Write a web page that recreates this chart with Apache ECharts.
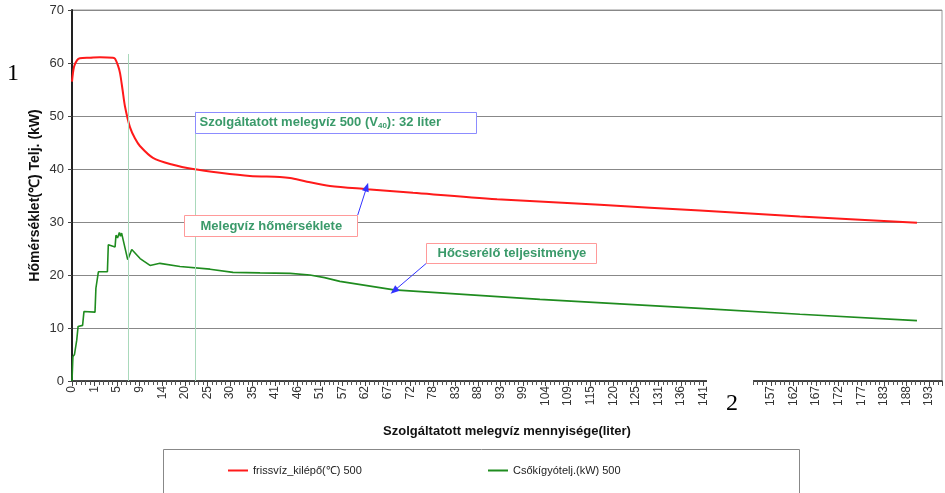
<!DOCTYPE html>
<html>
<head>
<meta charset="utf-8">
<script src="https://cdn.jsdelivr.net/npm/echarts@6/dist/echarts.min.js"></script>
<style>
  html, body { margin: 0; padding: 0; background: #fff; }
  #chart { width: 945px; height: 493px; }
</style>
</head>
<body>
<div id="chart"></div>
<script>
// x axis tick labels (liter), one per tick slot
const tickLabels = ['0', '1', '5', '9', '14', '20', '25', '30', '35', '41', '46', '51', '57', '62', '67',
  '72', '78', '83', '88', '93', '99', '104', '109', '115', '120', '125', '131', '136', '141',
  '146', '151', '157', '162', '167', '172', '177', '183', '188', '193']

// red: frissvíz kilépő hőmérséklet, position in tick slots
const redX = [0, 0.09, 0.22, 0.35, 0.8, 1.24, 1.82, 1.91, 2.04, 2.13, 2.24, 2.35, 2.57, 2.79, 3.02,
  3.59, 4.48, 5.37, 6.56, 7.89, 9.22, 9.67, 10.42, 11.44, 13.08, 15.12, 18.85, 23.41, 27.85, 32.28, 37.47]
const redY = [56.5, 59.3, 60.5, 60.9, 61.0, 61.1, 61.0, 60.8, 59.5, 58.1, 55.0, 51.8, 47.9, 45.8, 44.3,
  42.1, 40.8, 40.0, 39.3, 38.7, 38.5, 38.3, 37.6, 36.8, 36.2, 35.5, 34.3, 33.25, 32.15, 31.05, 29.85]

// green: csőkígyó teljesítmény
const greenX = [0, 0.04, 0.11, 0.21, 0.27, 0.31, 0.47, 0.53, 1.02, 1.06, 1.17, 1.57, 1.61, 1.91, 1.95,
  2.02, 2.1, 2.15, 2.2, 2.47, 2.65, 3.02, 3.46, 3.9, 4.79, 6.12, 7.14, 8.34, 9.67, 10.55, 11.2, 11.88,
  14.28, 20.75, 27.85, 32.28, 37.47]
const greenY = [0, 4.6, 5.0, 7.7, 10.3, 10.6, 10.5, 13.1, 13.0, 17.5, 20.6, 20.6, 25.7, 25.3, 27.5,
  27.0, 28.0, 27.3, 27.9, 22.9, 24.8, 23.1, 21.8, 22.2, 21.6, 21.1, 20.5, 20.4, 20.3, 20.0, 19.5, 18.8,
  17.2, 15.4, 13.7, 12.6, 11.4]

const seriesNames = ['frissvíz_kilépő(℃) 500', 'Csőkígyótelj.(kW) 500']

const pairs = (xs, ys) => xs.map((x, i) => [x, ys[i]])

const chart = echarts.init(document.getElementById('chart'))

const annoText = '#3a9a6a'
const vLine = { color: '#a9d9bb', width: 1, type: 'solid' }
const arrowLine = { color: '#3333ff', width: 1, type: 'solid' }
const legendText = { fontFamily: 'Liberation Sans', fontSize: 11, color: '#222' }

// white box with a text inside, drawn over the plot
const annoBox = (left, top, w, h, stroke, tx, ty, textStyle) => ({
  type: 'group', left, top,
  children: [
    { type: 'rect', z: 50, shape: { x: 0, y: 0, width: w, height: h },
      style: { fill: '#fff', stroke, lineWidth: 1 } },
    { type: 'text', z: 51, x: tx, y: ty, style: textStyle }
  ]
})

const boldAnno = { fontFamily: 'Liberation Sans', fontSize: 13, fontWeight: 'bold', fill: annoText }

const option = {
  animation: false,
  backgroundColor: '#fff',
  grid: {
    left: 72, right: 3, top: 10, bottom: 112,
    show: true, borderColor: '#999', borderWidth: 1
  },
  xAxis: {
    type: 'value',
    min: 0,
    max: 38.58,
    interval: 1,
    name: 'Szolgáltatott melegvíz mennyisége(liter)',
    nameLocation: 'middle',
    nameGap: 44,
    nameMoveOverlap: false,
    nameTextStyle: { fontFamily: 'Liberation Sans', fontSize: 13, fontWeight: 'bold', color: '#111' },
    axisLine: { lineStyle: { color: '#222', width: 1.5 } },
    axisTick: { length: 5, lineStyle: { color: '#444' } },
    minorTick: { show: true, splitNumber: 5, length: 4, lineStyle: { color: '#555' } },
    splitLine: { show: false },
    axisLabel: {
      rotate: 90,
      margin: 5,
      fontFamily: 'Liberation Sans',
      fontSize: 12,
      color: '#333',
      showMaxLabel: false,
      formatter: (v) => (Number.isInteger(v) && tickLabels[v] !== undefined ? tickLabels[v] : '')
    }
  },
  yAxis: {
    type: 'value',
    min: 0,
    max: 70,
    interval: 10,
    name: 'Hőmérséklet(℃) Telj. (kW)',
    nameLocation: 'middle',
    nameGap: 30,
    nameMoveOverlap: false,
    nameTextStyle: { fontFamily: 'Liberation Sans', fontSize: 14, fontWeight: 'bold', color: '#111' },
    axisLine: { show: true, lineStyle: { color: '#222', width: 2 } },
    axisTick: { show: true, length: 4, lineStyle: { color: '#444' } },
    splitLine: { lineStyle: { color: '#888', width: 1 } },
    axisLabel: { fontFamily: 'Liberation Sans', fontSize: 13, color: '#333', margin: 8 }
  },
  legend: [
    {
      data: [seriesNames[0]], left: 228, top: 465,
      icon: 'rect', itemWidth: 20, itemHeight: 2, itemGap: 0, padding: 0,
      textStyle: legendText
    },
    {
      data: [seriesNames[1]], left: 488, top: 465,
      icon: 'rect', itemWidth: 20, itemHeight: 2, itemGap: 0, padding: 0,
      textStyle: legendText
    }
  ],
  series: [
    {
      name: seriesNames[0],
      type: 'line',
      data: pairs(redX, redY),
      smooth: 0.3,
      showSymbol: false,
      color: '#ff1a1a',
      lineStyle: { width: 2 },
      z: 3,
      markLine: {
        silent: true,
        symbol: ['none', 'none'],
        label: { show: false },
        data: [
          [{ coord: [2.51, 0], lineStyle: vLine }, { coord: [2.51, 61.7] }],
          [{ coord: [5.48, 0], lineStyle: vLine }, { coord: [5.48, 50.8] }],
          [{ coord: [12.67, 31.3], lineStyle: arrowLine, symbol: 'none' },
           { coord: [13.07, 36.6], symbol: 'triangle', symbolSize: [7, 9] }]
        ]
      }
    },
    {
      name: seriesNames[1],
      type: 'line',
      data: pairs(greenX, greenY),
      showSymbol: false,
      color: '#1f8c1f',
      lineStyle: { width: 1.6 },
      z: 3,
      markLine: {
        silent: true,
        symbol: ['none', 'none'],
        label: { show: false },
        data: [
          [{ coord: [15.74, 22.3], lineStyle: arrowLine, symbol: 'none' },
           { coord: [14.28, 17.0], symbol: 'triangle', symbolSize: [7, 9] }]
        ]
      }
    }
  ],
  graphic: [
    annoBox(195, 112, 281, 21, '#8c8cff', 4, 3, {
      text: '{a|Szolgáltatott melegvíz 500 (V}{s|40}{a|): 32 liter}',
      rich: {
        a: boldAnno,
        s: { fontFamily: 'Liberation Sans', fontSize: 8, fontWeight: 'bold', fill: annoText, padding: [6, 0, 0, 0] }
      }
    }),
    annoBox(184, 215, 173, 21, '#ff9a9a', 16, 4, Object.assign({ text: 'Melegvíz hőmérséklete' }, boldAnno)),
    annoBox(426, 243, 170, 20, '#ff9a9a', 11, 3, Object.assign({ text: 'Hőcserélő teljesitménye' }, boldAnno)),
    // legend frame
    {
      type: 'rect', left: 161, top: 447, z: 1,
      shape: { x: 0, y: 0, width: 636, height: 45 },
      style: { fill: 'none', stroke: '#888', lineWidth: 1 }
    },
    // overlay marks
    {
      type: 'text', left: 7, top: 62, z: 60,
      style: { text: '1', fontFamily: 'Liberation Serif', fontSize: 24, fill: '#000' }
    },
    {
      type: 'rect', left: 707, top: 378, z: 59,
      shape: { x: 0, y: 0, width: 46, height: 42 },
      style: { fill: '#fff' }
    },
    {
      type: 'text', left: 726, top: 392, z: 60,
      style: { text: '2', fontFamily: 'Liberation Serif', fontSize: 24, fill: '#000' }
    }
  ]
}

chart.setOption(option)
</script>
</body>
</html>
